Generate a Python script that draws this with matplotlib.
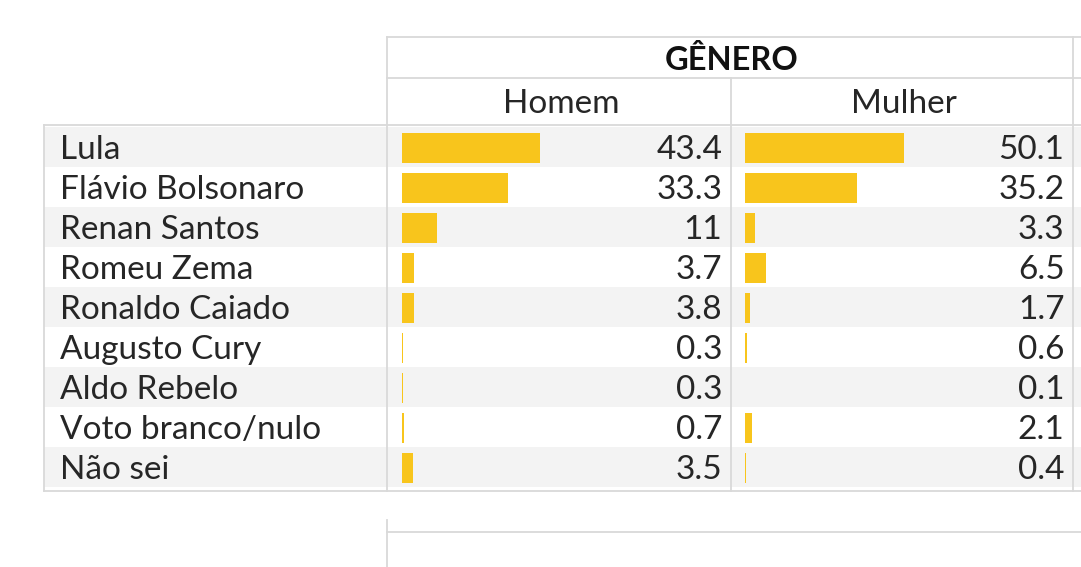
import matplotlib.pyplot as plt
from matplotlib.patches import Rectangle

plt.rcParams['font.family'] = ['Lato', 'DejaVu Sans']

candidatos = ["Lula", "Flávio Bolsonaro", "Renan Santos", "Romeu Zema",
              "Ronaldo Caiado", "Augusto Cury", "Aldo Rebelo",
              "Voto branco/nulo", "Não sei"]
homem = [43.4, 33.3, 11, 3.7, 3.8, 0.3, 0.3, 0.7, 3.5]
mulher = [50.1, 35.2, 3.3, 6.5, 1.7, 0.6, 0.1, 2.1, 0.4]
colunas = ["Homem", "Mulher"]
grupo = "GÊNERO"

W, H = 1081, 567
BAR = '#F8C51C'
LINE = '#d9d9d9'
SHADE = '#f3f3f3'
TXT = '#262626'
FS = 24

fig = plt.figure(figsize=(W / 100, H / 100), dpi=100)

# background axes in pixel coordinates for the table frame
bg = fig.add_axes([0, 0, 1, 1])
bg.set_xlim(0, W)
bg.set_ylim(H, 0)
bg.axis('off')

row_top = 128
row_h = 40
n = len(candidatos)

# alternating row shading
for i in range(n):
    if i % 2 == 0:
        bg.add_patch(Rectangle((44, row_top + i * row_h - 1), W - 44, row_h,
                               facecolor=SHADE, edgecolor='none', zorder=0))

# borders
lw = 1.3
bg.plot([387, W], [37, 37], color=LINE, lw=lw)
bg.plot([387, W], [78, 78], color=LINE, lw=lw)
bg.plot([44, W], [125, 125], color=LINE, lw=lw)
bg.plot([44, W], [491, 491], color=LINE, lw=lw)
bg.plot([44, 44], [125, 491], color=LINE, lw=lw)
bg.plot([387, 387], [37, 491], color=LINE, lw=lw)
bg.plot([731, 731], [78, 491], color=LINE, lw=lw)
bg.plot([1073, 1073], [37, 491], color=LINE, lw=lw)
# next table starting below
bg.plot([387, W], [532, 532], color=LINE, lw=lw)
bg.plot([387, 387], [520, H], color=LINE, lw=lw)

# header text
bg.text(732, 60, grupo, ha='center', va='center', fontsize=FS - 0.5,
        fontweight='bold', color='#111111')
bg.text(561, 104, colunas[0], ha='center', va='center', fontsize=FS, color=TXT)
bg.text(904, 104, colunas[1], ha='center', va='center', fontsize=FS, color=TXT)

# row labels
for i, nome in enumerate(candidatos):
    bg.text(60, row_top + i * row_h + row_h / 2 + 2, nome, ha='left', va='center',
            fontsize=FS, color=TXT)

# bar columns
scale = 3.18  # pixels per percentage point
for x0, x1, bar_start, vals in [(387, 731, 402, homem), (731, 1073, 745, mulher)]:
    ax = fig.add_axes([x0 / W, 1 - (row_top + n * row_h) / H,
                       (x1 - x0) / W, n * row_h / H])
    ax.set_xlim(-(bar_start - x0) / scale, (x1 - bar_start) / scale)
    ax.set_ylim(n - 0.5, -0.5)
    ax.axis('off')
    ax.patch.set_alpha(0)
    ax.barh(range(n), vals, height=0.75, color=BAR)
    for i, v in enumerate(vals):
        ax.text(0.975, i + 0.05, f"{v:g}", transform=ax.get_yaxis_transform(),
                ha='right', va='center', fontsize=FS, color=TXT)

fig.savefig("out.png", dpi=100)
